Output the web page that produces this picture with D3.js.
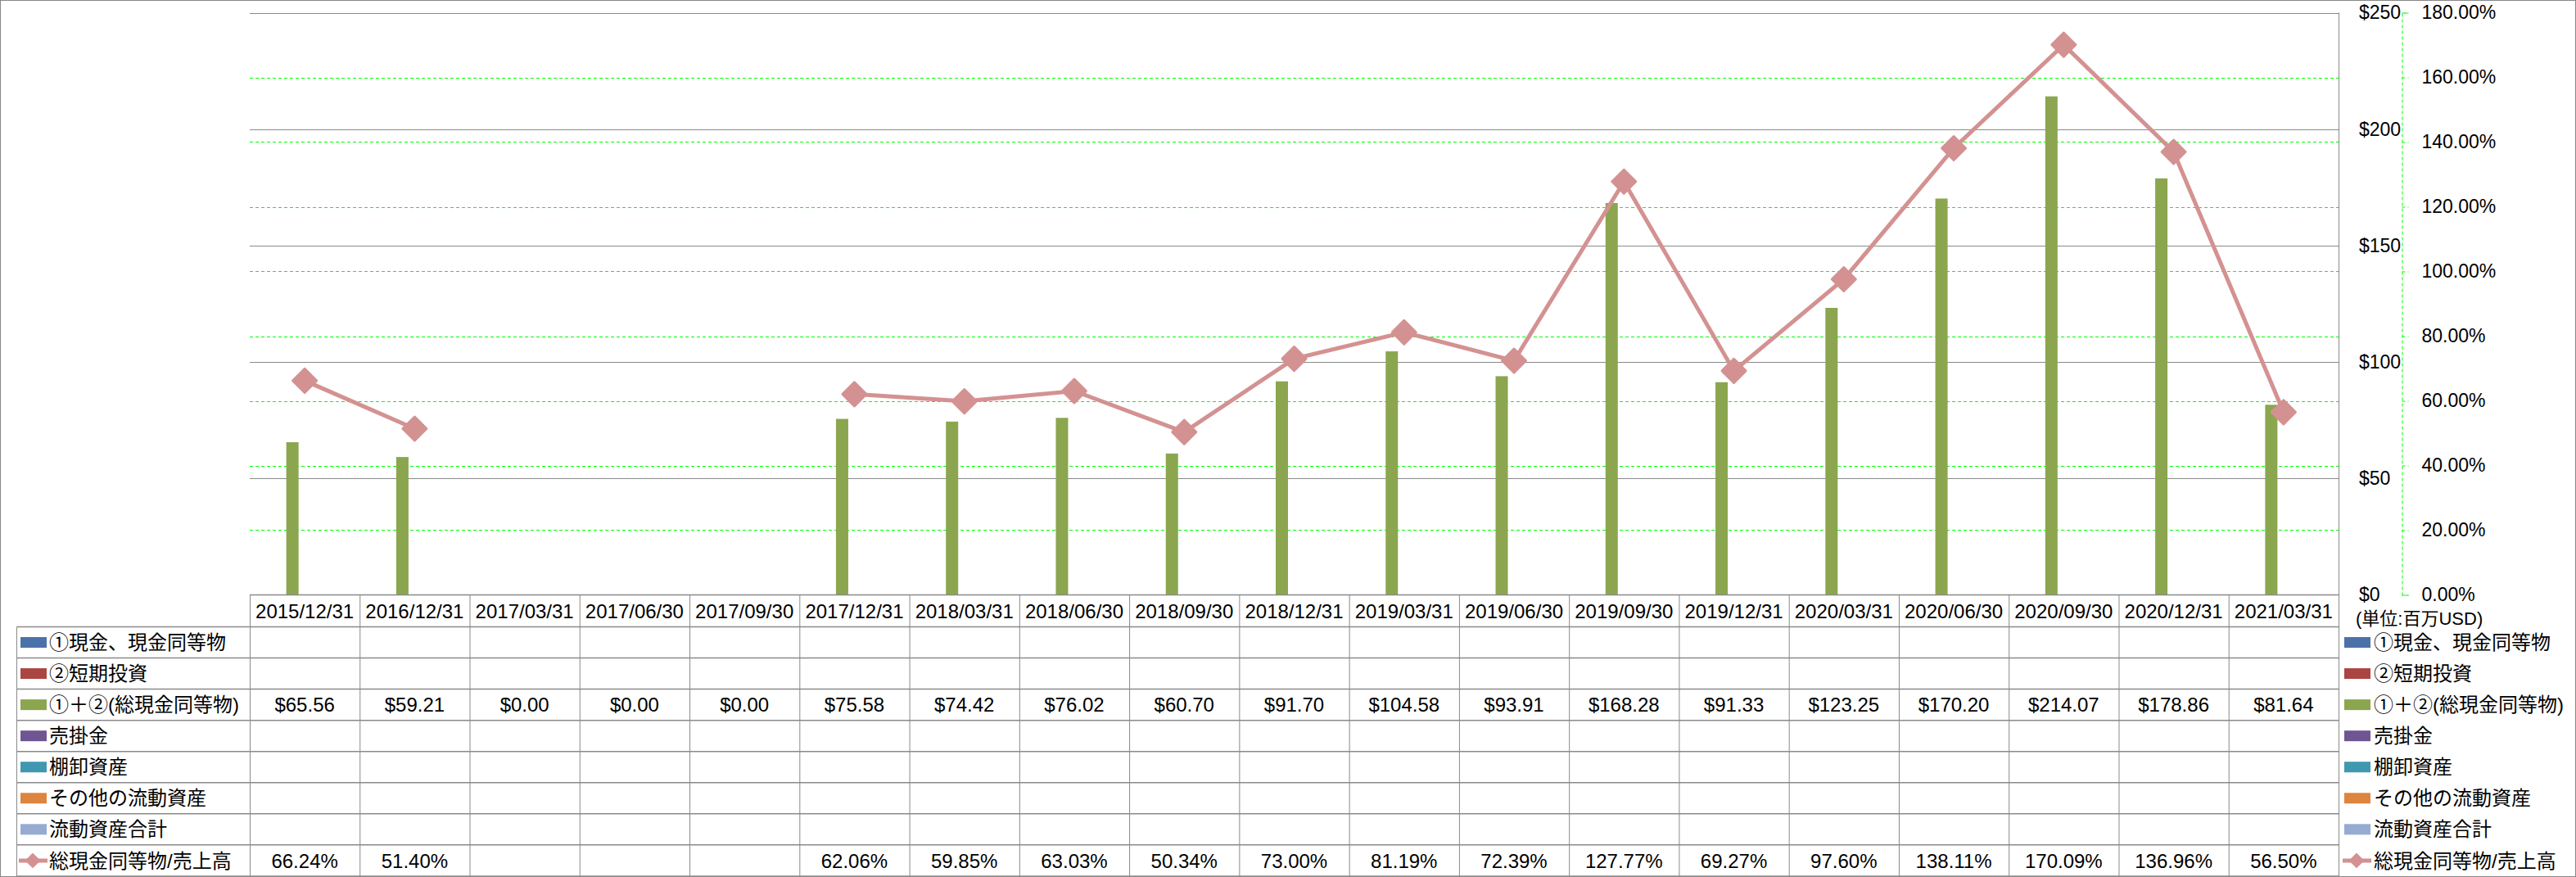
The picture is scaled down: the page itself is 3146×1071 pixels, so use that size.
<!DOCTYPE html>
<html>
<head>
<meta charset="utf-8">
<script src="https://cdn.jsdelivr.net/npm/d3@7"></script>
<style>
  body { margin: 0; background: #fff; }
  svg text { font-family: "Liberation Sans", Arial, "Noto Sans CJK JP", sans-serif; fill: #000; }
</style>
</head>
<body>
<svg id="chart" width="3146" height="1071"></svg>
<script>
const dates = ['2015/12/31', '2016/12/31', '2017/03/31', '2017/06/30', '2017/09/30', '2017/12/31',
  '2018/03/31', '2018/06/30', '2018/09/30', '2018/12/31', '2019/03/31', '2019/06/30', '2019/09/30',
  '2019/12/31', '2020/03/31', '2020/06/30', '2020/09/30', '2020/12/31', '2021/03/31']

// ①+② total cash (million USD)
const totalCash = [65.56, 59.21, 0, 0, 0, 75.58, 74.42, 76.02, 60.70, 91.70, 104.58, 93.91, 168.28,
  91.33, 123.25, 170.20, 214.07, 178.86, 81.64]

// total cash / revenue (%)
const cashRatio = [66.24, 51.40, null, null, null, 62.06, 59.85, 63.03, 50.34, 73.00, 81.19, 72.39,
  127.77, 69.27, 97.60, 138.11, 170.09, 136.96, 56.50]

const barSeries = ['①現金、現金同等物', '②短期投資', '①＋②(総現金同等物)', '売掛金', '棚卸資産', 'その他の流動資産', '流動資産合計']
const barColors = ['#4a72a9', '#ab4542', '#8ba64f', '#6f5692', '#3f98af', '#dd843e', '#95abd2']
const lineSeries = '総現金同等物/売上高'
const lineColor = '#d39291'

const usdTicks = [0, 50, 100, 150, 200, 250]
const pctTicks = [0, 20, 40, 60, 80, 100, 120, 140, 160, 180]

const svg = d3.select('#chart')
const plotLeft = 305
const plotRight = 2856
const plotTop = 15.5
const plotBottom = 726.5

const x = d3.scaleBand().domain(dates).range([plotLeft, plotRight]).paddingInner(0).paddingOuter(0)
const x1 = d3.scaleBand().domain(barSeries).range([0, x.bandwidth()]).paddingInner(0).paddingOuter(0.975)
const y = d3.scaleLinear().domain([0, 250]).range([plotBottom, plotTop])
const y2 = d3.scaleLinear().domain([0, 180]).range([plotBottom, plotTop])

// outer frame
svg.append('rect')
  .attr('x', 0.5).attr('y', 0.5).attr('width', 3145).attr('height', 1070)
  .attr('fill', 'none').attr('stroke', '#878787')

// gridlines
const grid = svg.append('g')
grid.selectAll('line.pct')
  .data(pctTicks.slice(1, -1))
  .join('line')
  .attr('class', 'pct')
  .attr('x1', plotLeft).attr('x2', plotRight)
  .attr('y1', (d) => Math.round(y2(d)) + 0.5).attr('y2', (d) => Math.round(y2(d)) + 0.5)
  .attr('stroke', '#00ff00').attr('stroke-dasharray', '4,3')
grid.selectAll('line.usd')
  .data(usdTicks.slice(1))
  .join('line')
  .attr('class', 'usd')
  .attr('x1', plotLeft).attr('x2', plotRight)
  .attr('y1', (d) => Math.round(y(d)) + 0.5).attr('y2', (d) => Math.round(y(d)) + 0.5)
  .attr('stroke', '#8a8a8a')
// plot right edge
svg.append('line')
  .attr('x1', plotRight + 0.5).attr('x2', plotRight + 0.5)
  .attr('y1', plotTop).attr('y2', 1070)
  .attr('stroke', '#8a8a8a')

// axes
const usdAxis = svg.append('g')
  .attr('transform', `translate(2881,0)`)
  .call(d3.axisRight(y).tickValues(usdTicks).tickFormat((d) => '$' + d).tickSize(0).tickPadding(0))
usdAxis.select('.domain').remove()
usdAxis.selectAll('text').attr('font-size', 23)

const pctAxis = svg.append('g')
  .attr('transform', `translate(2933.5,0)`)
  .call(d3.axisRight(y2).tickValues(pctTicks).tickFormat((d) => d.toFixed(2) + '%').tickSize(8).tickSizeOuter(8).tickPadding(16))
pctAxis.selectAll('.domain, line').attr('stroke', '#00ff00').attr('stroke-dasharray', '4,3')
pctAxis.selectAll('text').attr('font-size', 23)

// bars
const barIdx = 2
svg.append('g')
  .selectAll('rect')
  .data(totalCash.map((v, i) => ({ date: dates[i], v })).filter((d) => d.v > 0))
  .join('rect')
  .attr('x', (d) => x(d.date) + x1(barSeries[barIdx]))
  .attr('width', x1.bandwidth())
  .attr('y', (d) => y(d.v))
  .attr('height', (d) => y(0) - y(d.v))
  .attr('fill', barColors[barIdx])

// ratio line
const pts = cashRatio.map((v, i) => ({ date: dates[i], v }))
svg.append('path')
  .datum(pts)
  .attr('fill', 'none')
  .attr('stroke', lineColor)
  .attr('stroke-width', 5)
  .attr('d', d3.line()
    .defined((d) => d.v != null)
    .x((d) => x(d.date) + x.bandwidth() / 2)
    .y((d) => y2(d.v)))
svg.append('g')
  .selectAll('path')
  .data(pts.filter((d) => d.v != null))
  .join('path')
  .attr('d', d3.symbol(d3.symbolSquare, 420))
  .attr('transform', (d) => `translate(${x(d.date) + x.bandwidth() / 2},${y2(d.v)}) rotate(45)`)
  .attr('fill', lineColor)
  .attr('stroke', lineColor)
  .attr('stroke-width', 3)
  .attr('stroke-linejoin', 'round')

// data table
const headTop = 726.5
const rowTop = 765.5
const rowH = 38.05
const tableLeft = 20.5
const rows = barSeries.concat([lineSeries])
const rowY = (i) => rowTop + i * rowH
const table = svg.append('g')

table.selectAll('line.h')
  .data(d3.range(rows.length + 1))
  .join('line')
  .attr('class', 'h')
  .attr('x1', tableLeft).attr('x2', plotRight)
  .attr('y1', (i) => rowY(i)).attr('y2', (i) => rowY(i))
  .attr('stroke', '#8a8a8a').attr('stroke-width', 1.5)
table.append('line')
  .attr('x1', plotLeft).attr('x2', plotRight)
  .attr('y1', headTop).attr('y2', headTop)
  .attr('stroke', '#8a8a8a').attr('stroke-width', 1.5)
table.selectAll('line.v')
  .data(dates)
  .join('line')
  .attr('class', 'v')
  .attr('x1', (d) => x(d) + 0.5).attr('x2', (d) => x(d) + 0.5)
  .attr('y1', headTop).attr('y2', 1070)
  .attr('stroke', '#8a8a8a')
table.append('line')
  .attr('x1', tableLeft).attr('x2', tableLeft)
  .attr('y1', rowTop).attr('y2', 1070)
  .attr('stroke', '#8a8a8a')

table.selectAll('text.date')
  .data(dates)
  .join('text')
  .attr('class', 'date')
  .attr('x', (d) => x(d) + x.bandwidth() / 2)
  .attr('y', (headTop + rowTop) / 2)
  .attr('dy', '0.36em')
  .attr('text-anchor', 'middle')
  .attr('font-size', 24)
  .text((d) => d)

table.selectAll('text.cash')
  .data(totalCash)
  .join('text')
  .attr('class', 'cash')
  .attr('x', (d, i) => x(dates[i]) + x.bandwidth() / 2)
  .attr('y', rowY(barIdx) + rowH / 2)
  .attr('dy', '0.36em')
  .attr('text-anchor', 'middle')
  .attr('font-size', 24)
  .text((d) => '$' + d.toFixed(2))

table.selectAll('text.ratio')
  .data(cashRatio)
  .join('text')
  .attr('class', 'ratio')
  .attr('x', (d, i) => x(dates[i]) + x.bandwidth() / 2)
  .attr('y', rowY(rows.length - 1) + rowH / 2)
  .attr('dy', '0.36em')
  .attr('text-anchor', 'middle')
  .attr('font-size', 24)
  .text((d) => (d == null ? '' : d.toFixed(2) + '%'))

// legend keys, drawn in the table and again on the right
function drawLegend(g, keyX, textX) {
  rows.forEach((name, i) => {
    const cy = rowY(i) + rowH / 2
    if (i < barSeries.length) {
      g.append('rect')
        .attr('x', keyX).attr('y', cy - 6.5)
        .attr('width', 32).attr('height', 13)
        .attr('fill', barColors[i])
    } else {
      g.append('line')
        .attr('x1', keyX - 2).attr('x2', keyX + 33)
        .attr('y1', cy).attr('y2', cy)
        .attr('stroke', lineColor).attr('stroke-width', 5)
      g.append('path')
        .attr('d', d3.symbol(d3.symbolSquare, 180))
        .attr('transform', `translate(${keyX + 15},${cy}) rotate(45)`)
        .attr('fill', lineColor)
    }
    g.append('text')
      .attr('x', textX).attr('y', cy)
      .attr('dy', '0.36em')
      .attr('font-size', 24)
      .text(name)
  })
}
drawLegend(svg.append('g'), 25, 60)
drawLegend(svg.append('g'), 2863, 2899)

svg.append('text')
  .attr('x', 2877).attr('y', 755)
  .attr('dy', '0.36em')
  .attr('font-size', 22)
  .text('(単位:百万USD)')
</script>
</body>
</html>
